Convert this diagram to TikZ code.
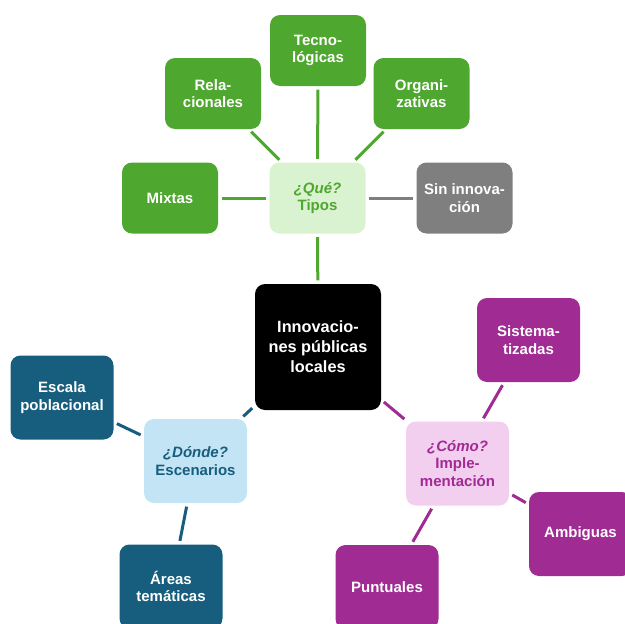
\documentclass[tikz,border=0pt]{standalone}
\usepackage{fontspec}
\setmainfont{Liberation Sans}
\definecolor{gr}{HTML}{4EA72E}
\definecolor{lgr}{HTML}{D9F2D0}
\definecolor{gy}{HTML}{7F7F7F}
\definecolor{bl}{HTML}{175E7E}
\definecolor{lbl}{HTML}{C2E4F5}
\definecolor{pu}{HTML}{A02B93}
\definecolor{lpu}{HTML}{F2CEEF}
\tikzset{
  box/.style={rounded corners=10pt, inner sep=0pt, align=center,
    font=\bfseries\fontsize{15}{17.5}\selectfont, text=white},
  leaf/.style={box, minimum width=96pt, minimum height=71pt},
  leafb/.style={box, minimum width=103pt, minimum height=84pt},
  con/.style={line width=3pt, shorten <=3.5pt, shorten >=3.5pt},
}
\begin{document}
\begin{tikzpicture}[x=1pt,y=-1pt]
\useasboundingbox (0,0) rectangle (625,624);
% center
\node[box, fill=black, minimum width=126pt, minimum height=126pt,
  font=\bfseries\fontsize{16.3}{20}\selectfont] (c) at (318,347) {Innovacio-\\nes públicas\\locales};
% green group
\node[leaf, fill=lgr, text=gr] (tipos) at (317.5,198) {\textit{¿Qué?}\\Tipos};
\node[leaf, fill=gr] (tec) at (318,50.5) {Tecno-\\lógicas};
\node[leaf, fill=gr] (rel) at (213,93.5) {Rela-\\cionales};
\node[leaf, fill=gr] (org) at (421.5,93.5) {Organi-\\zativas};
\node[leaf, fill=gr] (mix) at (170,198) {Mixtas};
\node[leaf, fill=gy] (sin) at (464.5,198) {Sin innova-\\ción};
% blue group
\node[leafb, fill=lbl, text=bl] (esc) at (195.5,461) {\textit{¿Dónde?}\\Escenarios};
\node[leafb, fill=bl] (pob) at (62,397.5) {Escala\\poblacional};
\node[leafb, fill=bl] (are) at (171,586.5) {Áreas\\temáticas};
% purple group
\node[leafb, fill=lpu, text=pu] (imp) at (457.5,463.5) {\textit{¿Cómo?}\\Imple-\\mentación};
\node[leafb, fill=pu] (sis) at (528.5,340) {Sistema-\\tizadas};
\node[leafb, fill=pu] (amb) at (580.5,534) {Ambiguas};
\node[leafb, fill=pu] (pun) at (387,587) {Puntuales};
% connectors
\draw[con, gr] (tipos) -- (tec);
\draw[con, gr] (tipos) -- (rel);
\draw[con, gr] (tipos) -- (org);
\draw[con, gr] (tipos) -- (mix);
\draw[con, gy] (tipos) -- (sin);
\draw[con, gr] (c) -- (tipos);
\draw[con, bl] (c) -- (esc);
\draw[con, bl] (pob) -- (esc);
\draw[con, bl] (esc) -- (are);
\draw[con, pu] (c) -- (imp);
\draw[con, pu] (sis) -- (imp);
\draw[con, pu] (imp) -- (amb);
\draw[con, pu] (imp) -- (pun);
\end{tikzpicture}
\end{document}
